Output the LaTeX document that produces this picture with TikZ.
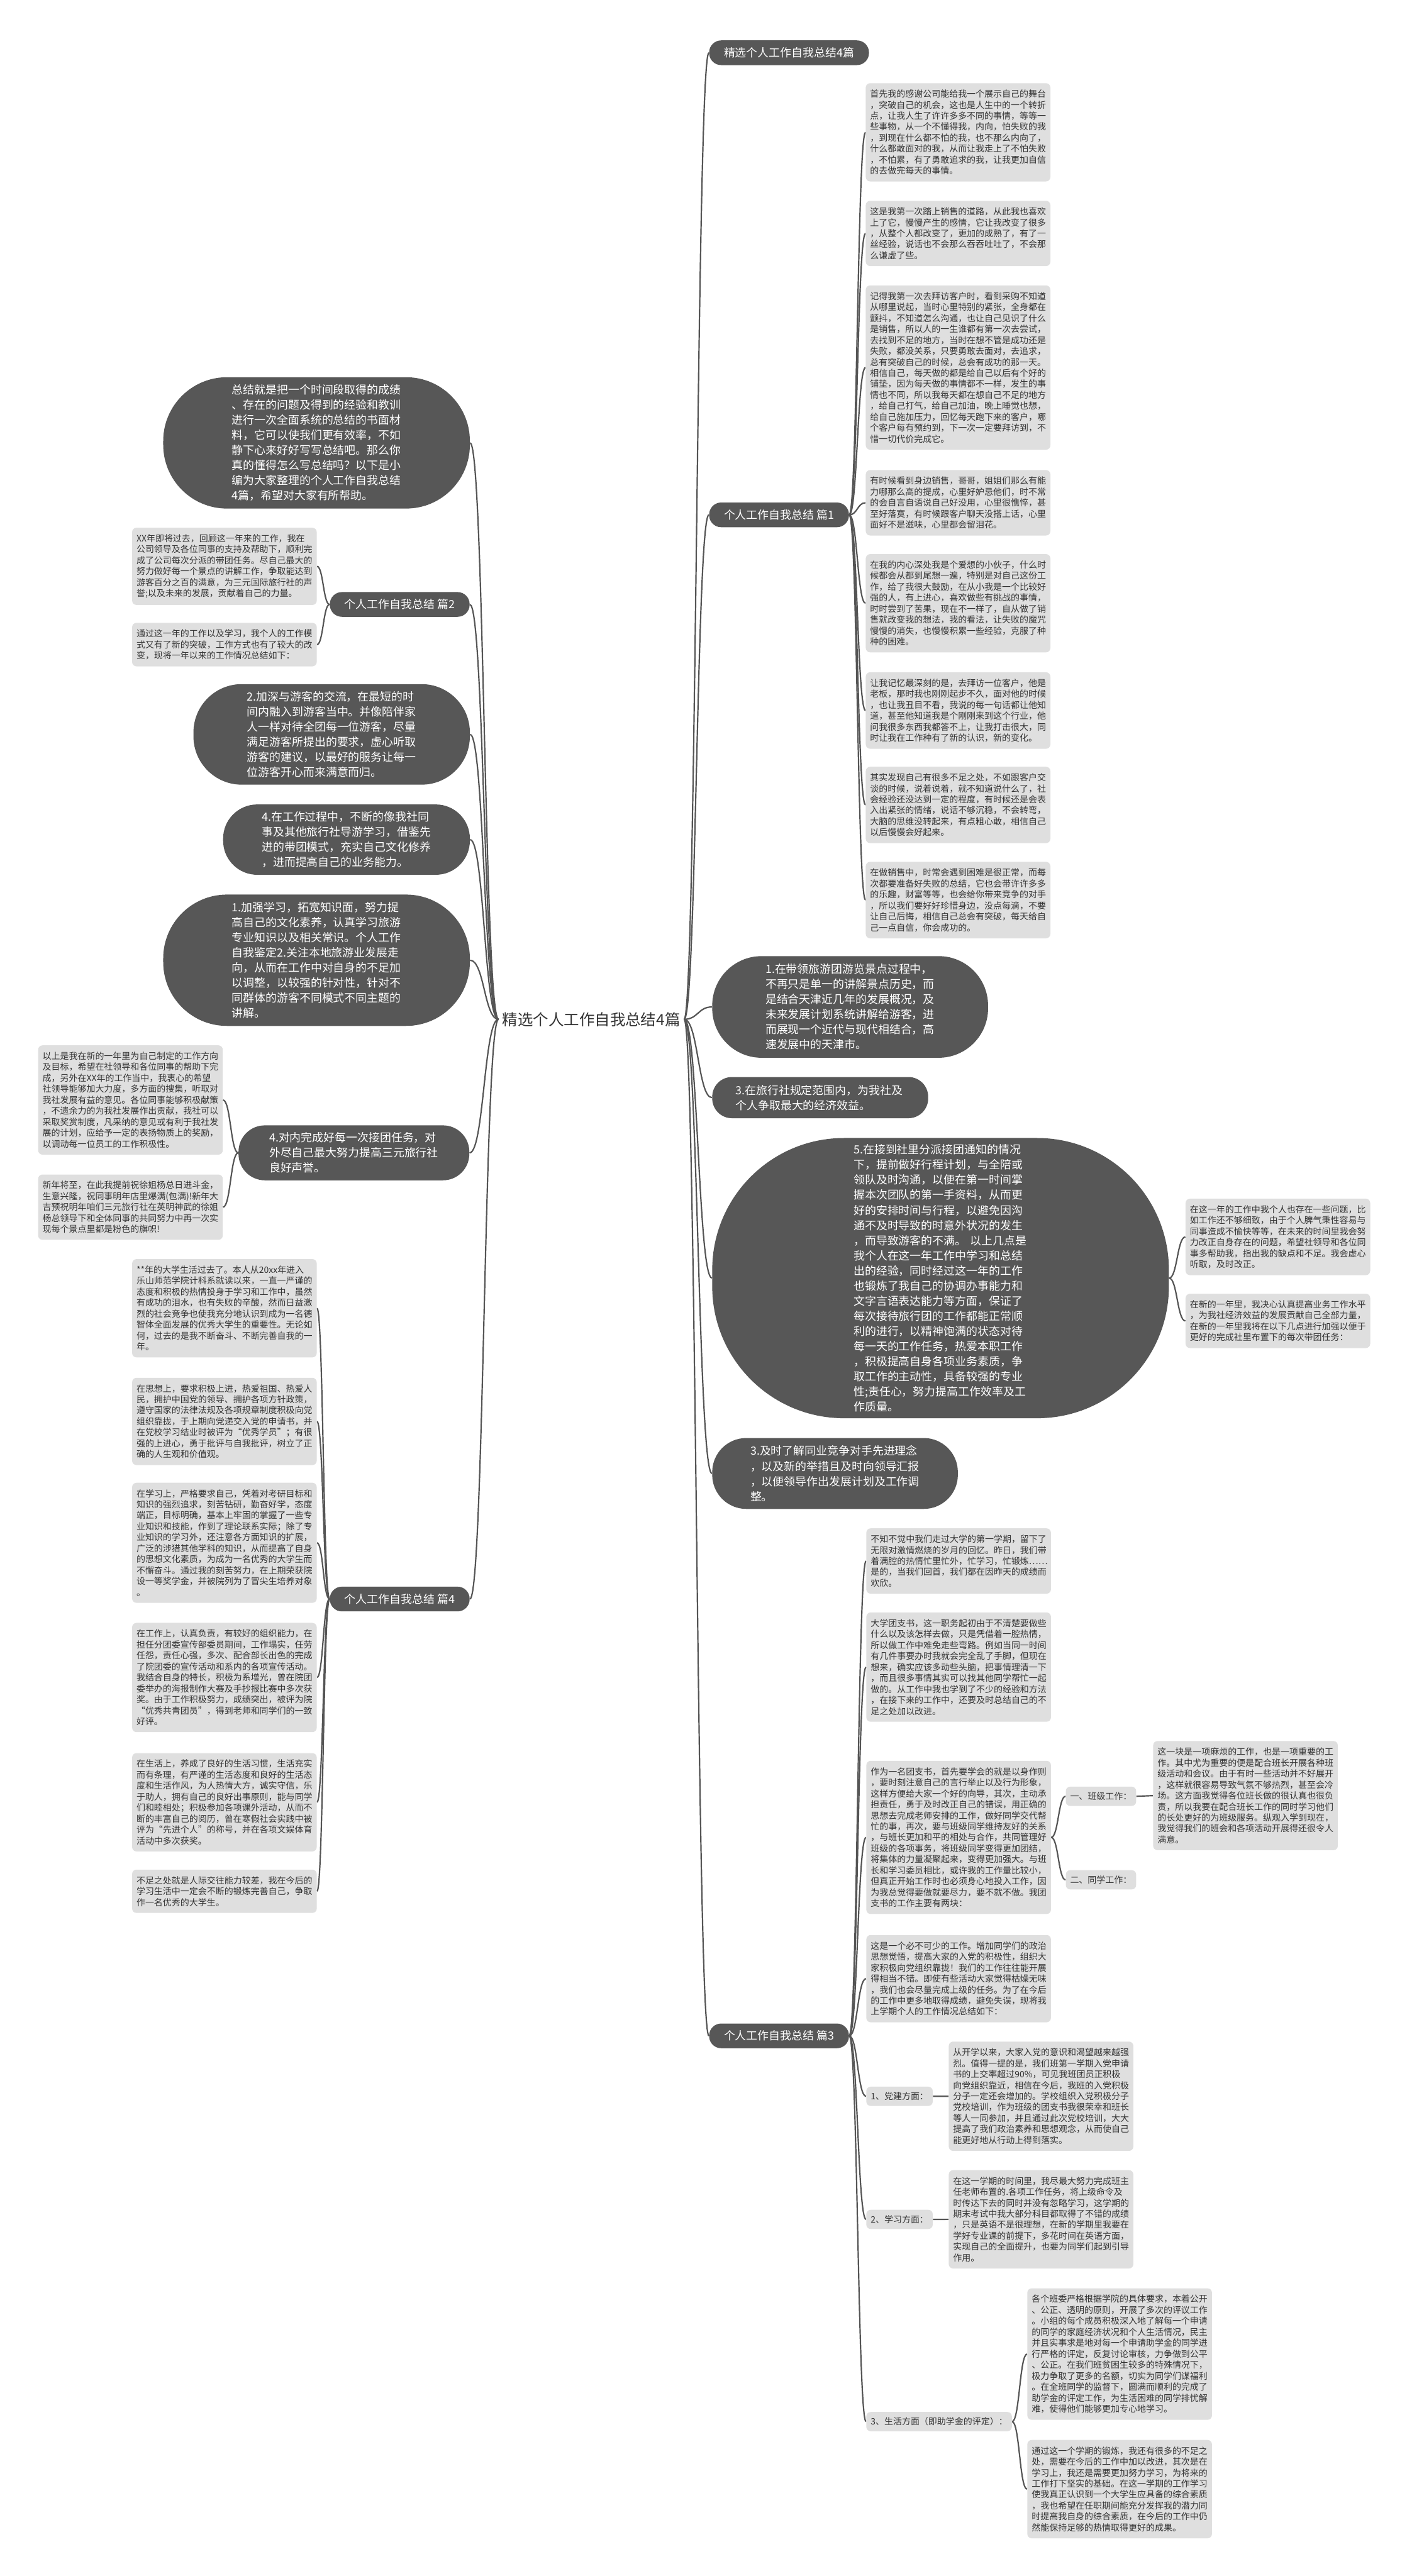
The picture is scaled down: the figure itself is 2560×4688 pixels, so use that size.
\documentclass[tikz,border=0pt]{standalone}
\usepackage{fontspec}
\setmainfont{Noto Sans CJK SC}
\usetikzlibrary{calc,backgrounds}
\definecolor{dk}{HTML}{575757}
\definecolor{lt}{HTML}{DFDFDF}
\definecolor{tx}{HTML}{333333}
\definecolor{ln}{HTML}{555555}
\tikzset{
 lblock/.style={fill=lt, rounded corners=4pt, text=tx, font=\fontsize{8}{10}\selectfont, align=left, text width=160pt, inner xsep=4pt, inner ysep=6pt, anchor=north west},
 dnode/.style={fill=dk, text=white, font=\fontsize{10.25}{13.75}\selectfont, align=left, inner sep=0pt},
 pnode/.style={fill=dk, text=white, font=\fontsize{10.25}{12}\selectfont, rounded corners=11pt, minimum height=22.5pt, inner xsep=13.5pt, inner ysep=0pt},
 tagn/.style={fill=lt, text=tx, font=\fontsize{8}{10}\selectfont, rounded corners=4pt, minimum height=17.5pt, inner xsep=4pt, inner ysep=0pt},
 conn/.style={draw=ln, line width=1.25pt},
}
\newcommand\lnk[2]{\draw[conn] let \p1=(#1), \p2=(#2) in (\p1) .. controls ({(\x1+\x2)/2},\y1) and ({(\x1+\x2)/2},\y2) .. (\p2);}
\begin{document}
\begin{tikzpicture}[x=0.5pt,y=-0.5pt]
\useasboundingbox (0,0) rectangle (2560,4688);

% root
\node[font=\fontsize{14}{16}\selectfont, text=tx] (root) at (1076,1855) {精选个人工作自我总结4篇};

% top right
\node[pnode, anchor=west] (top) at (1290,96) {精选个人工作自我总结4篇};
\node[pnode, anchor=west] (p1) at (1290,937) {个人工作自我总结 篇1};

\node[lblock] (b1) at (1575,151) {首先我的感谢公司能给我一个展示自己的舞台\\，突破自己的机会，这也是人生中的一个转折\\点，让我人生了许许多多不同的事情，等等一\\些事物，从一个不懂得我，内向，怕失败的我\\，到现在什么都不怕的我，也不那么内向了，\\什么都敢面对的我，从而让我走上了不怕失败\\，不怕累，有了勇敢追求的我，让我更加自信\\的去做完每天的事情。};
\node[lblock] (b2) at (1575,365) {这是我第一次踏上销售的道路，从此我也喜欢\\上了它，慢慢产生的感情，它让我改变了很多\\，从整个人都改变了，更加的成熟了，有了一\\丝经验，说话也不会那么吞吞吐吐了，不会那\\么谦虚了些。};
\node[lblock] (b3) at (1575,519) {记得我第一次去拜访客户时，看到采购不知道\\从哪里说起，当时心里特别的紧张，全身都在\\颤抖，不知道怎么沟通，也让自己见识了什么\\是销售，所以人的一生谁都有第一次去尝试，\\去找到不足的地方，当时在想不管是成功还是\\失败，都没关系，只要勇敢去面对，去追求，\\总有突破自己的时候，总会有成功的那一天。\\相信自己，每天做的都是给自己以后有个好的\\铺垫，因为每天做的事情都不一样，发生的事\\情也不同，所以我每天都在想自己不足的地方\\，给自己打气，给自己加油，晚上睡觉也想，\\给自己施加压力，回忆每天跑下来的客户，哪\\个客户每有预约到，下一次一定要拜访到，不\\惜一切代价完成它。};
\node[lblock] (b4) at (1575,855) {有时候看到身边销售，哥哥，姐姐们那么有能\\力哪那么高的提成，心里好妒忌他们，时不常\\的会自言自语说自己好没用，心里很憔悴，甚\\至好落寞，有时候跟客户聊天没搭上话，心里\\面好不是滋味，心里都会留泪花。};
\node[lblock] (b5) at (1575,1008) {在我的内心深处我是个爱想的小伙子，什么时\\候都会从都到尾想一遍，特别是对自己这份工\\作，给了我很大鼓励，在从小我是一个比较好\\强的人，有上进心，喜欢做些有挑战的事情，\\时时尝到了苦果，现在不一样了，自从做了销\\售就改变我的想法，我的看法，让失败的魔咒\\慢慢的消失，也慢慢积累一些经验，克服了种\\种的困难。};
\node[lblock] (b6) at (1575,1223) {让我记忆最深刻的是，去拜访一位客户，他是\\老板，那时我也刚刚起步不久，面对他的时候\\，也让我丑目不看，我说的每一句话都让他知\\道，甚至他知道我是个刚刚来到这个行业，他\\问我很多东西我都答不上，让我打击很大，同\\时让我在工作种有了新的认识，新的变化。};
\node[lblock] (b7) at (1575,1395) {其实发现自己有很多不足之处，不如跟客户交\\谈的时候，说着说着，就不知道说什么了，社\\会经验还没达到一定的程度，有时候还是会表\\入出紧张的情绪，说话不够沉稳，不会转弯，\\大脑的思维没转起来，有点粗心敢，相信自己\\以后慢慢会好起来。};
\node[lblock] (b8) at (1575,1568) {在做销售中，时常会遇到困难是很正常，而每\\次都要准备好失败的总结，它也会带许许多多\\的乐趣，财富等等，也会给你带来竞争的对手\\，所以我们要好好珍惜身边，没点每滴，不要\\让自己后悔，相信自己总会有突破，每天给自\\己一点自信，你会成功的。};

% left side
\node[dnode, minimum width=279pt, minimum height=119.5pt, rounded corners=58pt, text width=154pt] (l1) at (576,806) {总结就是把一个时间段取得的成绩\\、存在的问题及得到的经验和教训\\进行一次全面系统的总结的书面材\\料，它可以使我们更有效率，不如\\静下心来好好写写总结吧。那么你\\真的懂得怎么写总结吗？以下是小\\编为大家整理的个人工作自我总结\\4篇，希望对大家有所帮助。};
\node[pnode, anchor=east] (p2) at (855,1100) {个人工作自我总结 篇2};
\node[lblock] (f1) at (240,960) {XX年即将过去，回顾这一年来的工作，我在\\公司领导及各位同事的支持及帮助下，顺利完\\成了公司每次分派的带团任务。尽自己最大的\\努力做好每一个景点的讲解工作，争取能达到\\游客百分之百的满意，为三元国际旅行社的声\\誉;以及未来的发展，贡献着自己的力量。};
\node[lblock] (f2) at (240,1133) {通过这一年的工作以及学习，我个人的工作模\\式又有了新的突破，工作方式也有了较大的改\\变，现将一年以来的工作情况总结如下：};
\node[dnode, minimum width=251.5pt, minimum height=91.5pt, rounded corners=44pt, text width=154pt] (l2) at (603.5,1336.5) {2.加深与游客的交流，在最短的时\\间内融入到游客当中。并像陪伴家\\人一样对待全团每一位游客，尽量\\满足游客所提出的要求，虚心听取\\游客的建议，以最好的服务让每一\\位游客开心而来满意而归。};
\node[dnode, minimum width=224.5pt, minimum height=64pt, rounded corners=31pt, text width=154pt] (l3) at (630.5,1528) {4.在工作过程中，不断的像我社同\\事及其他旅行社导游学习，借鉴先\\进的带团模式，充实自己文化修养\\，进而提高自己的业务能力。};
\node[dnode, minimum width=279pt, minimum height=119.5pt, rounded corners=58pt, text width=154pt] (l4) at (576,1747.5) {1.加强学习，拓宽知识面，努力提\\高自己的文化素养，认真学习旅游\\专业知识以及相关常识。个人工作\\自我鉴定2.关注本地旅游业发展走\\向，从而在工作中对自身的不足加\\以调整，以较强的针对性，针对不\\同群体的游客不同模式不同主题的\\讲解。};
\node[dnode, minimum width=210pt, minimum height=50pt, rounded corners=24pt, text width=154pt] (n4) at (644,2098) {4.对内完成好每一次接团任务，对\\外尽自己最大努力提高三元旅行社\\良好声誉。};
\node[lblock] (g1) at (69,1902) {以上是我在新的一年里为自己制定的工作方向\\及目标，希望在社领导和各位同事的帮助下完\\成，另外在XX年的工作当中，我衷心的希望\\社领导能够加大力度，多方面的搜集，听取对\\我社发展有益的意见。各位同事能够积极献策\\，不遗余力的为我社发展作出贡献，我社可以\\采取奖赏制度，凡采纳的意见或有利于我社发\\展的计划，应给予一定的表扬物质上的奖励，\\以调动每一位员工的工作积极性。};
\node[lblock] (g2) at (69,2137) {新年将至，在此我提前祝徐姐杨总日进斗金，\\生意兴隆，祝同事明年店里爆满(包满)!新年大\\吉预祝明年咱们三元旅行社在英明神武的徐姐\\杨总领导下和全体同事的共同努力中再一次实\\现每个景点里都是粉色的旗帜!};

\node[pnode, anchor=east] (p4) at (855,2910) {个人工作自我总结 篇4};
\node[lblock] (d1) at (240,2291) {**年的大学生活过去了。本人从20xx年进入\\乐山师范学院计科系就读以来，一直一严谨的\\态度和积极的热情投身于学习和工作中，虽然\\有成功的泪水，也有失败的辛酸，然而日益激\\烈的社会竞争也使我充分地认识到成为一名德\\智体全面发展的优秀大学生的重要性。无论如\\何，过去的是我不断奋斗、不断完善自我的一\\年。};
\node[lblock] (d2) at (240,2507) {在思想上，要求积极上进，热爱祖国、热爱人\\民，拥护中国党的领导、拥护各项方针政策，\\遵守国家的法律法规及各项规章制度积极向党\\组织靠拢，于上期向党递交入党的申请书，并\\在党校学习结业时被评为“优秀学员”；有很\\强的上进心，勇于批评与自我批评，树立了正\\确的人生观和价值观。};
\node[lblock] (d3) at (240,2698) {在学习上，严格要求自己，凭着对考研目标和\\知识的强烈追求，刻苦钻研，勤奋好学，态度\\端正，目标明确，基本上牢固的掌握了一些专\\业知识和技能，作到了理论联系实际；除了专\\业知识的学习外，还注意各方面知识的扩展，\\广泛的涉猎其他学科的知识，从而提高了自身\\的思想文化素质，为成为一名优秀的大学生而\\不懈奋斗。通过我的刻苦努力，在上期荣获院\\设一等奖学金，并被院列为了冒尖生培养对象\\。};
\node[lblock] (d4) at (240,2953) {在工作上，认真负责，有较好的组织能力，在\\担任分团委宣传部委员期间，工作塌实，任劳\\任怨，责任心强，多次、配合部长出色的完成\\了院团委的宣传活动和系内的各项宣传活动。\\我结合自身的特长，积极为系增光，曾在院团\\委举办的海报制作大赛及手抄报比赛中多次获\\奖。由于工作积极努力，成绩突出，被评为院\\“优秀共青团员”，得到老师和同学们的一致\\好评。};
\node[lblock] (d5) at (240,3190) {在生活上，养成了良好的生活习惯，生活充实\\而有条理，有严谨的生活态度和良好的生活态\\度和生活作风，为人热情大方，诚实守信，乐\\于助人，拥有自己的良好出事原则，能与同学\\们和睦相处；积极参加各项课外活动，从而不\\断的丰富自己的阅历，曾在寒假社会实践中被\\评为“先进个人”的称号，并在各项文娱体育\\活动中多次获奖。};
\node[lblock] (d6) at (240,3402) {不足之处就是人际交往能力较差，我在今后的\\学习生活中一定会不断的锻炼完善自己，争取\\作一名优秀的大学生。};

% right middle
\node[dnode, minimum width=251pt, minimum height=92.5pt, rounded corners=45pt, text width=154pt] (r1) at (1547,1832.5) {1.在带领旅游团游览景点过程中，\\不再只是单一的讲解景点历史，而\\是结合天津近几年的发展概况，及\\未来发展计划系统讲解给游客，进\\而展现一个近代与现代相结合，高\\速发展中的天津市。};
\node[dnode, minimum width=196.5pt, minimum height=37.5pt, rounded corners=18pt, text width=154pt] (r2) at (1492.5,1997.5) {3.在旅行社规定范围内，为我社及\\个人争取最大的经济效益。};
\node[dnode, minimum width=415.5pt, minimum height=255pt, rounded corners=120pt, text width=158pt] (r3) at (1711.5,2326) {5.在接到社里分派接团通知的情况\\下，提前做好行程计划，与全陪或\\领队及时沟通，以便在第一时间掌\\握本次团队的第一手资料，从而更\\好的安排时间与行程，以避免因沟\\通不及时导致的时意外状况的发生\\，而导致游客的不满。 以上几点是\\我个人在这一年工作中学习和总结\\出的经验，同时经过这一年的工作\\也锻炼了我自己的协调办事能力和\\文字言语表达能力等方面，保证了\\每次接待旅行团的工作都能正常顺\\利的进行，以精神饱满的状态对待\\每一天的工作任务，热爱本职工作\\，积极提高自身各项业务素质，争\\取工作的主动性，具备较强的专业\\性;责任心，努力提高工作效率及工\\作质量。};
\node[dnode, minimum width=223.5pt, minimum height=64.5pt, rounded corners=31pt, text width=154pt] (r4) at (1519.5,2681.5) {3.及时了解同业竞争对手先进理念\\，以及新的举措且及时向领导汇报\\，以便领导作出发展计划及工作调\\整。};
\node[lblock] (c1) at (2157,2181) {在这一年的工作中我个人也存在一些问题，比\\如工作还不够细致，由于个人脾气秉性容易与\\同事造成不愉快等等，在未来的时间里我会努\\力改正自身存在的问题，希望社领导和各位同\\事多帮助我，指出我的缺点和不足。我会虚心\\听取，及时改正。};
\node[lblock] (c2) at (2157,2354) {在新的一年里，我决心认真提高业务工作水平\\，为我社经济效益的发展贡献自己全部力量，\\在新的一年里我将在以下几点进行加强以便于\\更好的完成社里布置下的每次带团任务：};

% pian 3
\node[pnode, anchor=west] (p3) at (1290,3705) {个人工作自我总结 篇3};
\node[lblock] (e1) at (1576,2781) {不知不觉中我们走过大学的第一学期，留下了\\无限对激情燃烧的岁月的回忆。昨日，我们带\\着满腔的热情忙里忙外，忙学习，忙锻炼……\\是的，当我们回首，我们都在因昨天的成绩而\\欢欣。};
\node[lblock] (e2) at (1576,2934) {大学团支书，这一职务起初由于不清楚要做些\\什么以及该怎样去做，只是凭借着一腔热情，\\所以做工作中难免走些弯路。例如当同一时间\\有几件事要办时我就会完全乱了手脚，但现在\\想来，确实应该多动些头脑，把事情理清一下\\，而且很多事情其实可以找其他同学帮忙一起\\做的。从工作中我也学到了不少的经验和方法\\，在接下来的工作中，还要及时总结自己的不\\足之处加以改进。};
\node[lblock] (e3) at (1576,3204) {作为一名团支书，首先要学会的就是以身作则\\，要时刻注意自己的言行举止以及行为形象，\\这样方便给大家一个好的向导，其次，主动承\\担责任，勇于及时改正自己的错误，用正确的\\思想去完成老师安排的工作，做好同学交代帮\\忙的事，再次，要与班级同学维持友好的关系\\，与班长更加和平的相处与合作，共同管理好\\班级的各项事务，将班级同学变得更加团结，\\将集体的力量凝聚起来，变得更加强大。与班\\长和学习委员相比，或许我的工作量比较小，\\但真正开始工作时也必须身心地投入工作，因\\为我总觉得要做就要尽力，要不就不做。我团\\支书的工作主要有两块：};
\node[lblock] (e4) at (1576,3521) {这是一个必不可少的工作。增加同学们的政治\\思想觉悟，提高大家的入党的积极性，组织大\\家积极向党组织靠拢！我们的工作往往能开展\\得相当不错。即使有些活动大家觉得枯燥无味\\，我们也会尽量完成上级的任务。为了在今后\\的工作中更多地取得成绩，避免失误，现将我\\上学期个人的工作情况总结如下：};
\node[tagn, anchor=west] (t1) at (1939,3269) {一、班级工作：};
\node[tagn, anchor=west] (t2) at (1939,3421) {二、同学工作：};
\node[lblock] (t1c) at (2098,3168) {这一块是一项麻烦的工作，也是一项重要的工\\作。其中尤为重要的便是配合班长开展各种班\\级活动和会议。由于有时一些活动并不好展开\\，这样就很容易导致气氛不够热烈，甚至会冷\\场。这方面我觉得各位班长做的很认真也很负\\责，所以我要在配合班长工作的同时学习他们\\的长处更好的为班级服务。纵观入学到现在，\\我觉得我们的班会和各项活动开展得还很令人\\满意。};
\node[tagn, anchor=west] (s1) at (1576,3815) {1、党建方面：};
\node[tagn, anchor=west] (s2) at (1576,4039) {2、学习方面：};
\node[tagn, anchor=west] (s3) at (1576,4407) {3、生活方面（即助学金的评定）：};
\node[lblock] (s1c) at (1726,3715) {从开学以来，大家入党的意识和渴望越来越强\\烈。值得一提的是，我们班第一学期入党申请\\书的上交率超过90\%，可见我班团员正积极\\向党组织靠近，相信在今后，我班的入党积极\\分子一定还会增加的。学校组织入党积极分子\\党校培训，作为班级的团支书我很荣幸和班长\\等人一同参加，并且通过此次党校培训，大大\\提高了我们政治素养和思想观念，从而使自己\\能更好地从行动上得到落实。};
\node[lblock] (s2c) at (1726,3949) {在这一学期的时间里，我尽最大努力完成班主\\任老师布置的.各项工作任务，将上级命令及\\时传达下去的同时并没有忽略学习，这学期的\\期末考试中我大部分科目都取得了不错的成绩\\，只是英语不是很理想，在新的学期里我要在\\学好专业课的前提下，多花时间在英语方面，\\实现自己的全面提升，也要为同学们起到引导\\作用。};
\node[lblock] (s3a) at (1869,4164) {各个班委严格根据学院的具体要求，本着公开\\、公正、透明的原则，开展了多次的评议工作\\。小组的每个成员积极深入地了解每一个申请\\的同学的家庭经济状况和个人生活情况，民主\\并且实事求是地对每一个申请助学金的同学进\\行严格的评定，反复讨论审核，力争做到公平\\、公正。在我们班贫困生较多的特殊情况下，\\极力争取了更多的名额，切实为同学们谋福利\\。在全班同学的监督下，圆满而顺利的完成了\\助学金的评定工作，为生活困难的同学排忧解\\难，使得他们能够更加专心地学习。};
\node[lblock] (s3b) at (1869,4440) {通过这一个学期的锻炼，我还有很多的不足之\\处，需要在今后的工作中加以改进，其次是在\\学习上，我还是需要更加努力学习，为将来的\\工作打下坚实的基础。在这一学期的工作学习\\使我真正认识到一个大学生应具备的综合素质\\，我也希望在任职期间能充分发挥我的潜力同\\时提高我自身的综合素质，在今后的工作中仍\\然能保持足够的热情取得更好的成果。};

\begin{scope}[on background layer]
\foreach \nm in {top,p1,r1,r2,r3,r4,p3} {\lnk{root.east}{\nm.west}}
\foreach \nm in {l1,p2,l2,l3,l4,n4,p4} {\lnk{root.west}{\nm.east}}
\foreach \nm in {b1,b2,b3,b4,b5,b6,b7,b8} {\lnk{p1.east}{\nm.west}}
\foreach \nm in {f1,f2} {\lnk{p2.west}{\nm.east}}
\foreach \nm in {g1,g2} {\lnk{n4.west}{\nm.east}}
\foreach \nm in {d1,d2,d3,d4,d5,d6} {\lnk{p4.west}{\nm.east}}
\foreach \nm in {c1,c2} {\lnk{r3.east}{\nm.west}}
\foreach \nm in {e1,e2,e3,e4,s1,s2,s3} {\lnk{p3.east}{\nm.west}}
\foreach \nm in {t1,t2} {\lnk{e3.east}{\nm.west}}
\lnk{t1.east}{t1c.west}
\lnk{s1.east}{s1c.west}
\lnk{s2.east}{s2c.west}
\foreach \nm in {s3a,s3b} {\lnk{s3.east}{\nm.west}}
\end{scope}
\end{tikzpicture}
\end{document}
